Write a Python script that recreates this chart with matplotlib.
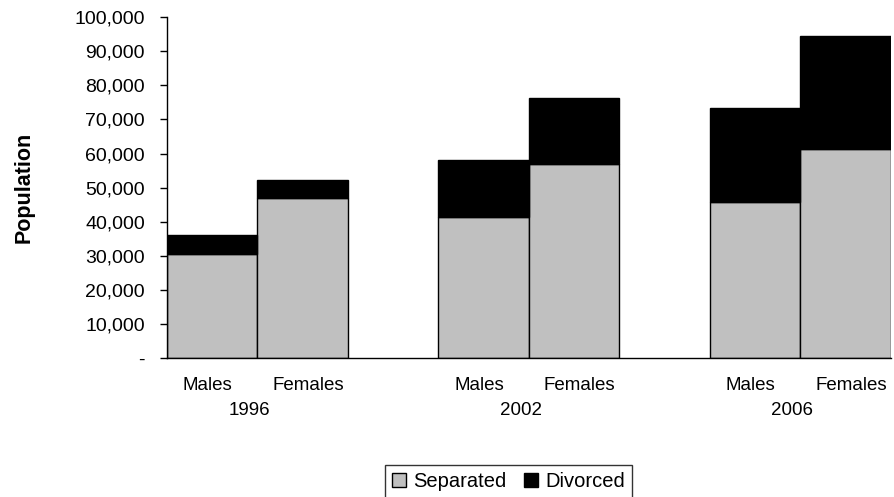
import numpy as np
import matplotlib
matplotlib.use('Agg')
import matplotlib.pyplot as plt
from matplotlib.ticker import FuncFormatter

plt.rcParams['font.family'] = ['Liberation Sans', 'DejaVu Sans']

years = ['1996', '2002', '2006']
sexes = ['Males', 'Females']
separated = [30700, 47000, 41400, 57000, 45700, 61400]
divorced = [5300, 5100, 16800, 19400, 27500, 33000]

fig = plt.figure(figsize=(8.95, 4.97), dpi=100)
ax = fig.add_axes([167 / 895, 1 - 358.3 / 497, 724 / 895, 341.3 / 497])

# two bars per year, one empty slot between years
pos = []
for g in range(len(years)):
    for s in range(len(sexes)):
        pos.append(g * 3 + s + 0.5)
pos = np.array(pos)

ax.bar(pos, separated, width=1.0, color='#c0c0c0', edgecolor='black',
       linewidth=1.0, label='Separated')
ax.bar(pos, divorced, width=1.0, bottom=separated, color='black',
       edgecolor='black', linewidth=1.0, label='Divorced')

ax.set_xlim(0, 8)
ax.set_ylim(0, 100000)
ax.set_yticks(range(0, 100001, 10000))
ax.yaxis.set_major_formatter(FuncFormatter(
    lambda v, p: '-' if v == 0 else '{:,.0f}'.format(v)))
ax.tick_params(axis='y', direction='out', length=5, width=1, pad=11,
               labelsize=14)
ax.set_xticks([])

for sp in ['top', 'right']:
    ax.spines[sp].set_visible(False)
for sp in ['left', 'bottom']:
    ax.spines[sp].set_linewidth(1.0)

# excel spreads the two category labels a little apart
nudge = [-0.05, 0.06]
trans = ax.get_xaxis_transform()
for i, p in enumerate(pos):
    ax.text(p + nudge[i % 2], -0.081, sexes[i % 2], transform=trans,
            ha='center', va='center', fontsize=13.5)
for g, yr in enumerate(years):
    ax.text(g * 3 + 1 - 0.09, -0.154, yr, transform=trans, ha='center',
            va='center', fontsize=13.5)

ax.set_ylabel('Population', fontsize=15.5, fontweight='bold')
ax.yaxis.set_label_coords(-0.183, 0.5)

leg = fig.legend(loc='center', bbox_to_anchor=(508.5 / 895, 1 - 481.5 / 497),
                 ncol=2, frameon=True, fancybox=False, fontsize=14.5,
                 handlelength=0.7, handleheight=0.7, handletextpad=0.35,
                 columnspacing=0.9, borderpad=0.35)
leg.get_frame().set_edgecolor('black')
leg.get_frame().set_linewidth(1.0)

fig.savefig('out.png', dpi=100)
